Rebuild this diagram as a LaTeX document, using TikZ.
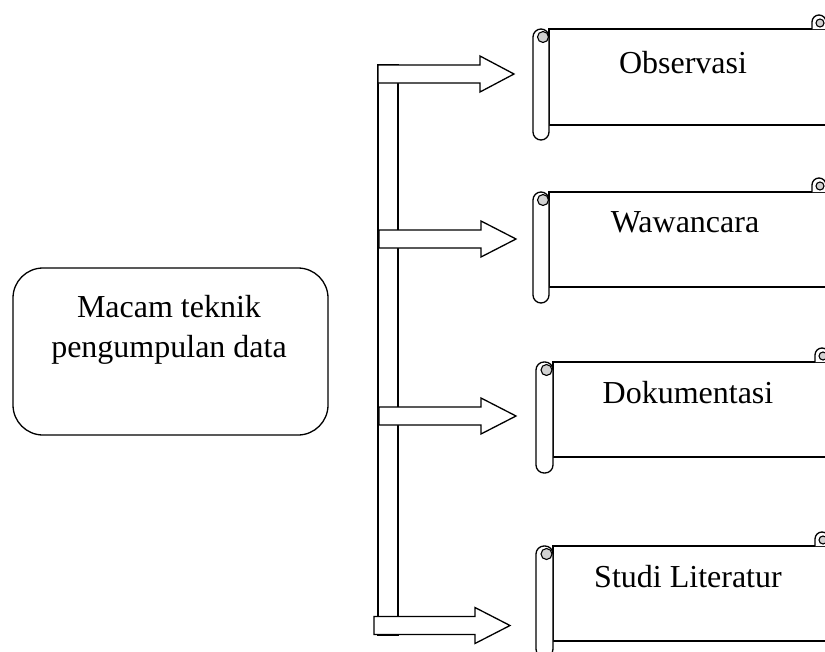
\documentclass[tikz,border=0pt]{standalone}
\usepackage{fontspec}
\setmainfont{Liberation Serif}
\tikzset{
  outline/.style={draw=black, line width=1.3pt, fill=white},
  curl/.style={draw=black, line width=1.1pt, fill=gray!35},
  label/.style={font=\fontsize{32}{40}\selectfont, inner sep=0pt, anchor=base},
}
\newcommand\blockarrow[4]{% left, base, tip, centre y
  \draw[outline] (#1,#4-9) -- (#2,#4-9) -- (#2,#4-18) -- (#3,#4) -- (#2,#4+18) -- (#2,#4+9) -- (#1,#4+9) -- cycle;}
\newcommand\scrollbox[5]{% roll left x, top y, roll width, body height, roll height
  \begin{scope}[shift={(#1,#2)}]
    \draw[outline] (#3,0) rectangle (330,#4);
    \draw[outline] (279,0) -- (279,-7) arc (180:360:7) -- (293,0);
    \draw[curl] (287,-6) circle (4);
    \draw[outline, rounded corners=8] (0,0) rectangle (#3,#5);
    \draw[curl] (#3/2+2,8) circle (5.5);
  \end{scope}}
\begin{document}
\begin{tikzpicture}[x=1pt,y=-1pt]
\useasboundingbox (0,0) rectangle (825,651);
\clip (0,0) rectangle (825,651);
% main box
\node[draw=black, line width=1.3pt, rounded corners=30, minimum width=315pt, minimum height=167pt, inner sep=0pt] (main) at (170.5,351.5) {};
\node[label] (mainA) at (169,317) {Macam teknik};
\node[label] (mainB) at (169,357) {pengumpulan data};
% vertical bar
\draw[outline] (378,65) rectangle (398,635);
% arrows
\blockarrow{378}{480}{514}{74}
\blockarrow{379}{481}{516}{239}
\blockarrow{379}{481}{516}{416}
\blockarrow{374}{475}{510}{625.5}
% scrolls
\scrollbox{533}{29}{16}{96}{111}
\scrollbox{533}{192}{16}{95}{111}
\scrollbox{536}{362}{17}{95}{111}
\scrollbox{536}{546}{17}{95}{111}
% labels
\node[label] (t1) at (683,73) {Observasi};
\node[label] (t2) at (685,232) {Wawancara};
\node[label] (t3) at (688,403) {Dokumentasi};
\node[label] (t4) at (688,587) {Studi Literatur};
\end{tikzpicture}
\end{document}
